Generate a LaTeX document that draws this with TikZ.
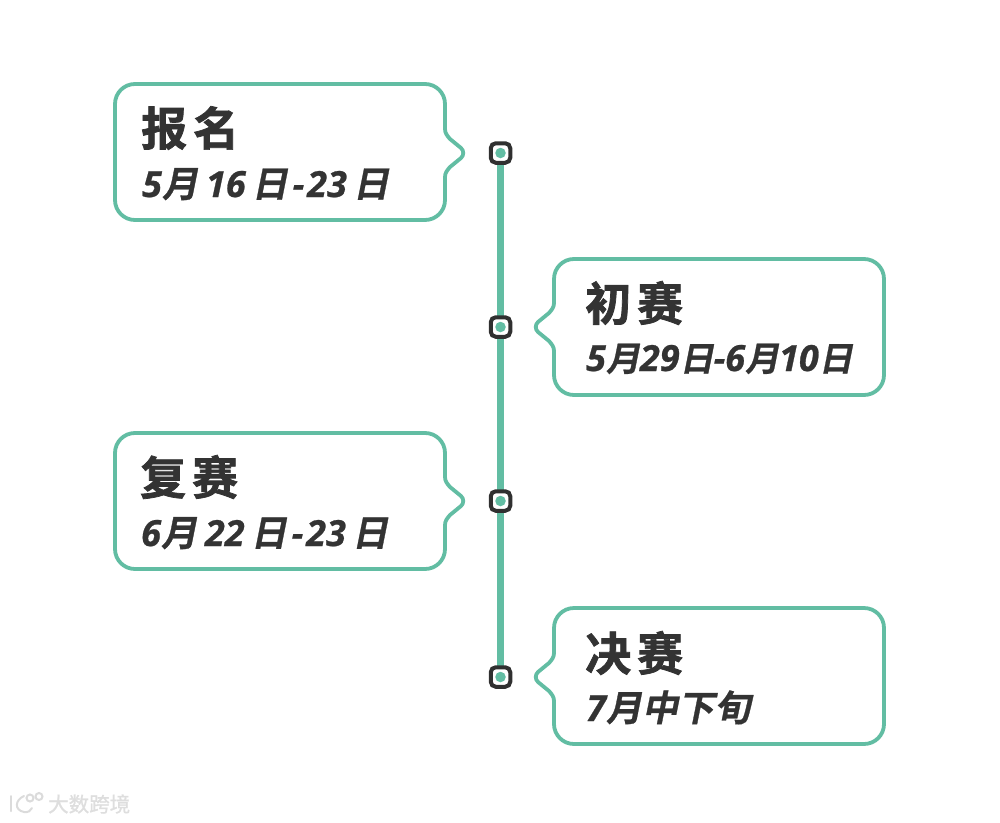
\documentclass[tikz,border=0pt]{standalone}
\usetikzlibrary{backgrounds}
\usepackage{fontspec}
\setmainfont{Noto Sans CJK SC}
\newfontfamily\titlefont[LetterSpace=13,FakeBold=1.6]{Noto Sans CJK SC Bold}
\newfontfamily\datefont[FakeSlant=0.2,FakeBold=0.8]{Noto Sans CJK SC Bold}
\newfontfamily\digfont{Open Sans}
\newfontfamily\markfont[FakeBold=1]{Noto Sans CJK SC}
\newcommand{\dg}[1]{{\digfont\bfseries\itshape\fontsize{36}{36}\selectfont\addfontfeature{FakeBold=0.7}#1}}
\definecolor{teal1}{HTML}{62BDA3}
\definecolor{ink}{HTML}{333333}
\tikzset{
  callout/.style={draw=teal1,line width=3.8pt,fill=white,line join=round},
  track/.style={draw=teal1,line width=6.3pt,shorten <=-1.5pt,shorten >=-1.5pt},
  marker/.style={draw=ink!95!black,line width=4pt,fill=white,rounded corners=5pt,minimum size=19.5pt,inner sep=0pt,outer sep=0pt},
  dot/.style={circle,fill=teal1,minimum size=10.5pt,inner sep=0pt},
  titletext/.style={anchor=west,inner sep=0pt,text=ink,font=\titlefont\fontsize{46}{46}\selectfont},
  datetext/.style={anchor=base west,inner sep=0pt,text=ink,font=\datefont\fontsize{36}{36}\selectfont},
  datenarrow/.style={datetext,font=\datefont\fontsize{34}{34}\selectfont},
  marktext/.style={anchor=west,inner sep=0pt,text=black!13,font=\markfont\fontsize{20.5}{20.5}\selectfont},
  logo/.style={draw=black!14,line width=2pt,line cap=round},
}
\newcommand{\calloutleft}[2]{% top, tip y: box to the left, tip to the right
  \draw[callout] (135,#1) -- (425,#1) to[out=0,in=90] (445,#1+20) -- (445,#2-24)
     to[out=-90,in=130] (450,#2-14) -- (461,#2-5) to[out=-40,in=40] (461,#2+5) -- (450,#2+14)
     to[out=-130,in=90] (445,#2+24) -- (445,#1+116) to[out=-90,in=0] (425,#1+136)
     -- (135,#1+136) to[out=180,in=-90] (115,#1+116) -- (115,#1+20) to[out=90,in=180] (135,#1) -- cycle;}
\newcommand{\calloutright}[2]{% top, tip y: box to the right, tip to the left
  \draw[callout] (574,#1) -- (864,#1) to[out=0,in=90] (884,#1+20) -- (884,#1+116) to[out=-90,in=0] (864,#1+136)
     -- (574,#1+136) to[out=180,in=-90] (554,#1+116) -- (554,#2+24)
     to[out=90,in=-50] (549,#2+14) -- (538,#2+5) to[out=140,in=-140] (538,#2-5) -- (549,#2-14)
     to[out=50,in=-90] (554,#2-24) -- (554,#1+20) to[out=90,in=180] (574,#1) -- cycle;}
\begin{document}
\begin{tikzpicture}[x=1pt,y=-1pt]
\useasboundingbox (0,0) rectangle (1000,822);

\calloutleft{84}{153}
\calloutright{259}{327}
\calloutleft{433}{501}
\calloutright{608}{677}

\node[titletext] (t1) at (141,128) {报名};
\node[datetext]  (d1) at (142,197) {\dg{5}月\kern8pt\dg{16}\kern6pt日\kern5pt\dg{-}\kern3pt\dg{23}\kern6pt日};
\node[titletext] (t2) at (585,303) {初赛};
\node[datenarrow] (d2) at (586,371) {\dg{5}月\dg{29}日\dg{-}\dg{6}月\dg{10}日};
\node[titletext] (t3) at (140,477) {复赛};
\node[datetext]  (d3) at (141,546) {\dg{6}月\kern8pt\dg{22}\kern6pt日\kern5pt\dg{-}\kern3pt\dg{23}\kern6pt日};
\node[titletext] (t4) at (585,653) {决赛};
\node[datetext]  (d4) at (586,721) {\dg{7}月中下旬};

\node[marker] (m1) at (500.5,153) {};
\node[marker] (m2) at (500.5,327) {};
\node[marker] (m3) at (500.5,501) {};
\node[marker] (m4) at (500.5,677) {};
\begin{scope}[on background layer]
\fill[white] (0,0) rectangle (1000,822);
\draw[track] (m1) -- (m2);
\draw[track] (m2) -- (m3);
\draw[track] (m3) -- (m4);
\end{scope}
\node[dot] (p1) at (m1) {};
\node[dot] (p2) at (m2) {};
\node[dot] (p3) at (m3) {};
\node[dot] (p4) at (m4) {};

% watermark
\draw[logo] (11,796) -- (11,811);
\draw[logo] (24,796) .. controls (15,800) and (14,810) .. (24,812) .. controls (28,812.5) and (31,811) .. (32,808);
\draw[logo] (30,798) circle (3.5pt);
\draw[logo] (39,796.5) circle (3.5pt);
\node[marktext] (wm) at (48,804) {大数跨境};
\end{tikzpicture}
\end{document}
